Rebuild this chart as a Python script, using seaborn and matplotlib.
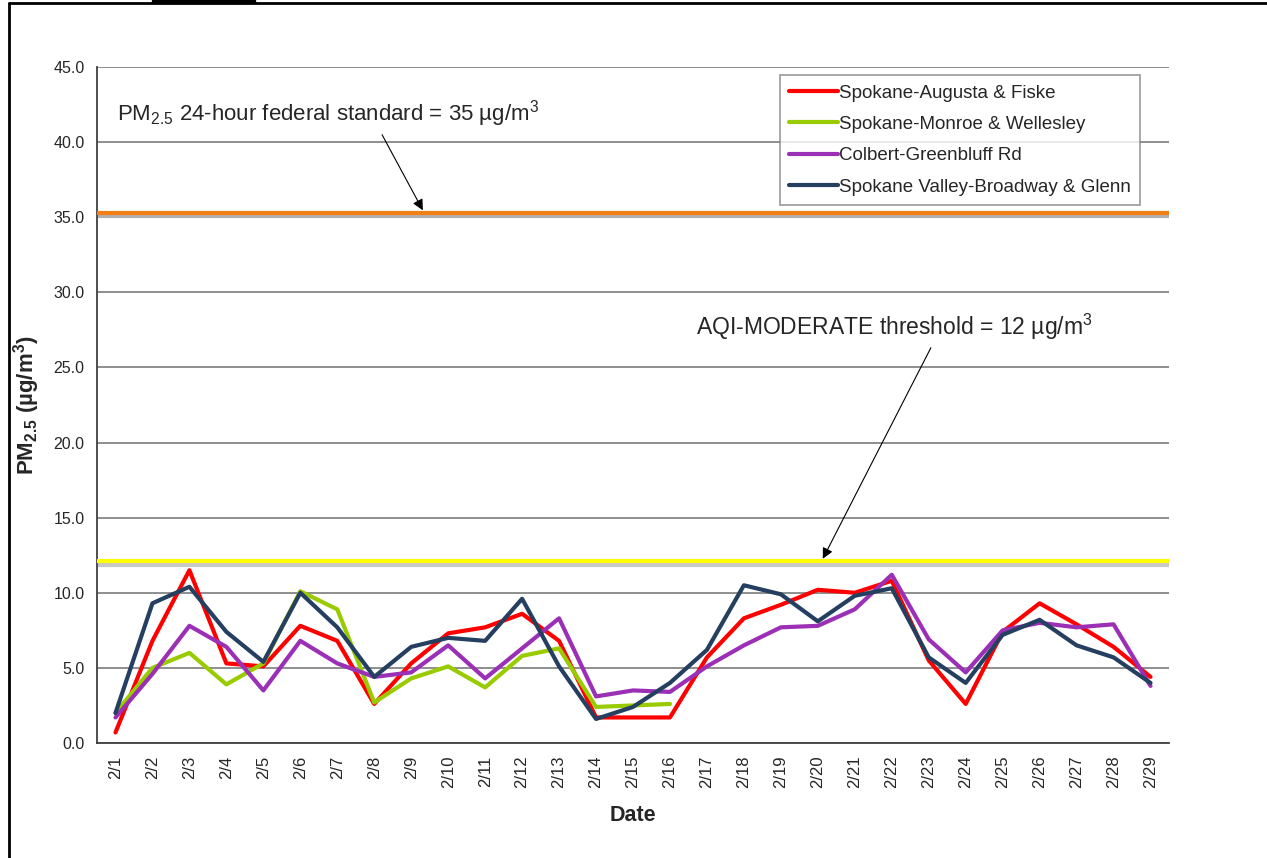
import numpy as np
import pandas as pd
import matplotlib.pyplot as plt
import seaborn as sns
from matplotlib.lines import Line2D
from matplotlib.patches import Rectangle

# Datos de PM2.5 (promedios de 24 horas), febrero
fechas = [f"2/{d}" for d in range(1, 30)]

augusta_fiske = [0.7, 6.8, 11.5, 5.3, 5.1, 7.8, 6.8, 2.6, 5.3, 7.3, 7.7, 8.6, 6.8, 1.7, 1.7,
                 1.7, 5.7, 8.3, 9.2, 10.2, 10.0, 10.8, 5.5, 2.6, 7.4, 9.3, 7.9, 6.4, 4.4]
monroe_wellesley = [2.0, 5.0, 6.0, 3.9, 5.3, 10.1, 8.9, 2.7, 4.3, 5.1, 3.7, 5.8, 6.3, 2.4, 2.5,
                    2.6] + [np.nan] * 13
colbert = [1.7, 4.6, 7.8, 6.4, 3.5, 6.8, 5.3, 4.4, 4.7, 6.5, 4.3, 6.3, 8.3, 3.1, 3.5,
           3.4, 5.1, 6.5, 7.7, 7.8, 8.9, 11.2, 6.9, 4.7, 7.5, 8.0, 7.7, 7.9, 3.8]
broadway_glenn = [2.0, 9.3, 10.4, 7.4, 5.4, 10.0, 7.7, 4.4, 6.4, 7.0, 6.8, 9.6, 5.1, 1.6, 2.4,
                  4.0, 6.2, 10.5, 9.9, 8.1, 9.8, 10.3, 5.7, 4.0, 7.2, 8.2, 6.5, 5.7, 4.0]

sitios = ["Spokane-Augusta & Fiske", "Spokane-Monroe & Wellesley",
          "Colbert-Greenbluff Rd", "Spokane Valley-Broadway & Glenn"]
colores = ["#FF0000", "#99CC00", "#9B2FB5", "#243F60"]

estandar_federal = 35.3
umbral_aqi = 12.1

df = pd.DataFrame({"Fecha": fechas * 4,
                   "PM25": augusta_fiske + monroe_wellesley + colbert + broadway_glenn,
                   "Sitio": np.repeat(sitios, len(fechas))}).dropna()

sns.set_style("white")
plt.rcParams['font.family'] = ['Liberation Sans', 'DejaVu Sans']
plt.rcParams['mathtext.fontset'] = 'custom'
plt.rcParams['mathtext.rm'] = 'Liberation Sans'
plt.rcParams['mathtext.it'] = 'Liberation Sans'
plt.rcParams['mathtext.bf'] = 'Liberation Sans:bold'

fig = plt.figure(figsize=(12.67, 8.58), dpi=100)
ax = fig.add_axes([97 / 1267, 1 - 743 / 858, 1072 / 1267, 676 / 858])

# Líneas de referencia (con sombra gris)
ax.axhline(estandar_federal - 0.25, color="#b0b0b0", lw=3, zorder=2)
ax.axhline(estandar_federal, color="#F57F17", lw=3, zorder=3)
ax.axhline(umbral_aqi - 0.25, color="#c8c8c8", lw=3, zorder=2)
ax.axhline(umbral_aqi, color="#FFFF00", lw=3, zorder=3)

sns.lineplot(data=df, x="Fecha", y="PM25", hue="Sitio", hue_order=sitios,
             palette=dict(zip(sitios, colores)), estimator=None, sort=False,
             lw=3, ax=ax, zorder=4)

ax.set_xlim(-0.5, len(fechas) - 0.5)
ax.set_ylim(0, 45)
ax.set_yticks(np.arange(0, 45.1, 5))
ax.set_yticklabels([f"{v:.1f}" for v in np.arange(0, 45.1, 5)])
ax.set_xticks(range(len(fechas)))
ax.set_xticklabels(fechas, rotation=90)
ax.tick_params(axis="y", length=0, pad=9, labelsize=11.5)
ax.tick_params(axis="x", length=0, pad=9, labelsize=12)
ax.grid(axis="y", color="#868686", lw=1.3)
ax.set_axisbelow(True)
for lado in ["top", "right"]:
    ax.spines[lado].set_visible(False)
ax.spines["left"].set_color("#404040")
ax.spines["bottom"].set_color("#404040")
ax.spines["left"].set_linewidth(1.3)
ax.spines["bottom"].set_linewidth(1.3)

ax.set_xlabel("Date", fontsize=15.5, fontweight="bold", labelpad=12)
ax.set_ylabel(r"PM$_{\mathbf{2.5}}$ (µg/m$^{\mathbf{3}}$)",
              fontsize=16, fontweight="bold", labelpad=8)

# Anotaciones
ax.annotate(r"PM$_{2.5}$ 24-hour federal standard = 35 µg/m$^3$",
            xy=(8.35, estandar_federal), xytext=(0.05, 41.9),
            fontsize=16, va="center", ha="left",
            arrowprops=dict(arrowstyle="-|>", color="black", lw=0.8,
                            mutation_scale=16, relpos=(0.62, 0.0)))
ax.annotate(r"AQI-MODERATE threshold = 12 µg/m$^3$",
            xy=(19.1, umbral_aqi), xytext=(15.7, 27.7),
            fontsize=16.5, va="center", ha="left",
            arrowprops=dict(arrowstyle="-|>", color="black", lw=0.8,
                            mutation_scale=16, relpos=(0.6, 0.0)))

handles, labels = ax.get_legend_handles_labels()
leg = ax.legend(handles, labels, loc="upper right", bbox_to_anchor=(0.973, 0.988),
                fontsize=13.5, frameon=True, fancybox=False, edgecolor="#808080",
                handlelength=2.6, handletextpad=0.05, labelspacing=0.76,
                borderpad=0.5, borderaxespad=0)
leg.get_frame().set_linewidth(1.2)
for linea in leg.get_lines():
    linea.set_linewidth(3)

# Marco exterior y resto del título recortado
fig.add_artist(Line2D([9 / 1267, 9 / 1267], [0, 1 - 3 / 858], color="black", lw=2,
                      transform=fig.transFigure))
fig.add_artist(Line2D([9 / 1267, 1], [1 - 3 / 858, 1 - 3 / 858], color="black", lw=2,
                      transform=fig.transFigure))
fig.add_artist(Rectangle((152 / 1267, 1 - 3 / 858), 103 / 1267, 3 / 858, color="black",
                         transform=fig.transFigure))

fig.savefig("out.png", dpi=100)
